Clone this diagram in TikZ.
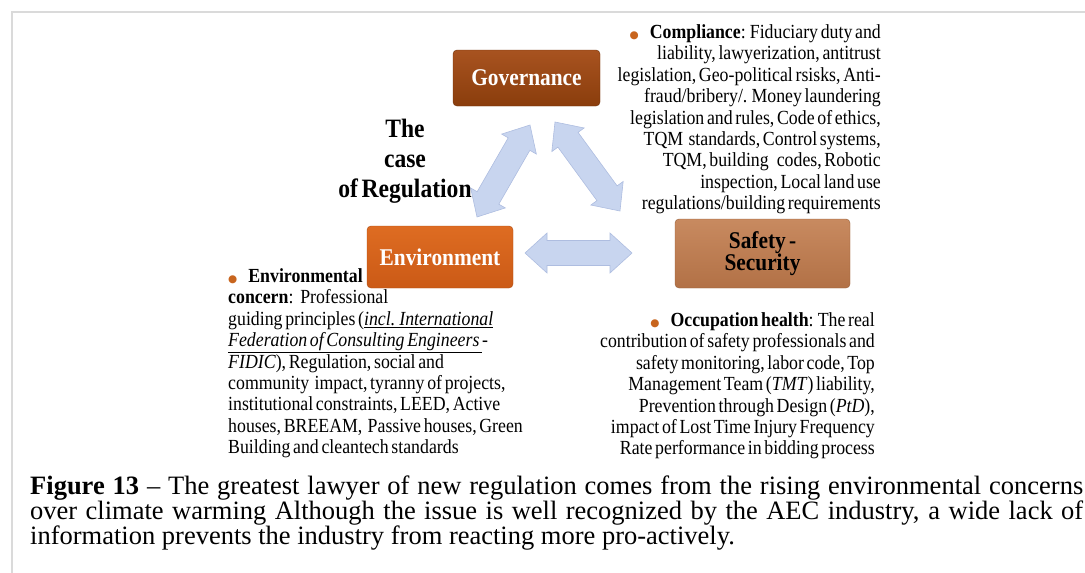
\documentclass[tikz,border=0pt]{standalone}
\usepackage{fontspec}
\setmainfont{Liberation Serif}
\newfontfamily\figfont[FakeStretch=0.89, WordSpace=0.6]{Liberation Serif}
\newfontfamily\symfont{DejaVu Sans}
\usetikzlibrary{calc}
\definecolor{framec}{HTML}{DADADA}
\definecolor{govtop}{HTML}{A85320}
\definecolor{govbot}{HTML}{8A3D0C}
\definecolor{envtop}{HTML}{DE6C22}
\definecolor{envbot}{HTML}{CB5A16}
\definecolor{saftop}{HTML}{C88A60}
\definecolor{safbot}{HTML}{B27146}
\definecolor{arrfill}{HTML}{C8D5EF}
\definecolor{arrdraw}{HTML}{AEBDE0}
\definecolor{bulc}{HTML}{C8651E}
\newcommand\bul{{\symfont\fontsize{10.5}{10}\selectfont\textcolor{bulc}{●}}\hspace{11pt}}
\newcommand\myul[1]{\underline{#1}}
\newcommand\dblarrow[2]{%
  \filldraw[arrowsty] (#1) -- ($(#1)!22pt!(#2)!20pt!90:(#2)$) -- ($(#1)!22pt!(#2)!12.5pt!90:(#2)$)
   -- ($(#2)!22pt!(#1)!12.5pt!-90:(#1)$) -- ($(#2)!22pt!(#1)!20pt!-90:(#1)$) -- (#2)
   -- ($(#2)!22pt!(#1)!20pt!90:(#1)$) -- ($(#2)!22pt!(#1)!12.5pt!90:(#1)$)
   -- ($(#1)!22pt!(#2)!12.5pt!-90:(#2)$) -- ($(#1)!22pt!(#2)!20pt!-90:(#2)$) -- cycle;}
\tikzset{
  arrowsty/.style={fill=arrfill, draw=arrdraw, line width=0.6pt, line join=miter},
  boxsty/.style={rounded corners=4pt, inner sep=0pt, align=center,
     font=\figfont\bfseries\fontsize{24}{24}\selectfont},
  bodytext/.style={inner sep=0pt, font=\figfont\fontsize{20}{21.4}\selectfont},
  captext/.style={inner sep=0pt, anchor=base west, font=\fontsize{26.5}{26}\selectfont},
}
\begin{document}
\begin{tikzpicture}[x=1pt, y=-1pt]
\useasboundingbox (0,0) rectangle (1085,573);
\draw[framec, line width=1.5pt] (12,573) -- (12,12) -- (1090,12);

% boxes
\node[boxsty, top color=govtop, bottom color=govbot, draw=govbot!80!black, text=white,
  minimum width=147pt, minimum height=56pt] (gov) at (526.5,78) {Governance};
\node[boxsty, top color=envtop, bottom color=envbot, draw=envbot!85!black, text=white,
  minimum width=146pt, minimum height=62pt] (env) at (440,257) {Environment};
\node[boxsty, top color=saftop, bottom color=safbot, draw=safbot!85!black, text=black,
  minimum width=175pt, minimum height=69pt, font=\figfont\bfseries\fontsize{24}{22.5}\selectfont] (saf) at (762.5,253.5) {Safety -\\Security};

% block arrows
\coordinate (la1) at (477,217);
\coordinate (la2) at (530,125);
\coordinate (ra1) at (555,122);
\coordinate (ra2) at (620,211);
\coordinate (ha1) at (525,253);
\coordinate (ha2) at (632,253);
\dblarrow{la1}{la2}
\dblarrow{ra1}{ra2}
\dblarrow{ha1}{ha2}

% title
\node[inner sep=0pt, align=center, font=\figfont\bfseries\fontsize{26.5}{30}\selectfont] (title) at (405,161)
  {The\\case\\of Regulation};

% compliance
\node[bodytext, align=right, anchor=north east] (comp) at (881,24.5) {%
\bul\textbf{Compliance}: Fiduciary duty and\\
liability, lawyerization, antitrust\\
legislation, Geo-political rsisks, Anti-\\
fraud/bribery/. Money laundering\\
legislation and rules, Code of ethics,\\
TQM \ standards, Control systems,\\
TQM, building \ \ codes, Robotic\\
inspection, Local land use\\
regulations/building requirements};

% environmental
\node[bodytext, align=left, anchor=north west] (envtext) at (228,268.5) {%
\bul\textbf{Environmental}\\
\textbf{concern}: \ Professional\\
guiding principles (\myul{\textit{incl. International}}\\
\myul{\textit{Federation of Consulting Engineers }}-\\
\textit{FIDIC}), Regulation, social and\\
community \ impact, tyranny of projects,\\
institutional constraints, LEED, Active\\
houses, BREEAM, \ Passive houses, Green\\
Building and cleantech standards};

% occupation
\node[bodytext, align=right, anchor=north east] (occ) at (875,312.5) {%
\bul\textbf{Occupation health}: The real\\
contribution of safety professionals and\\
safety monitoring, labor code, Top\\
Management Team (\textit{TMT}) liability,\\
Prevention through Design (\textit{PtD}),\\
impact of Lost Time Injury Frequency\\
Rate performance in bidding process};

% caption
\node[captext] (cap1) at (30,494) {\makebox[1053pt][s]{\textbf{Figure 13} – The greatest lawyer of new regulation comes from the rising environmental concerns}};
\node[captext] (cap2) at (30,519) {\makebox[1053pt][s]{over climate warming Although the issue is well recognized by the AEC industry, a wide lack of}};
\node[captext] (cap3) at (30,544) {information prevents the industry from reacting more pro-actively.};
\end{tikzpicture}
\end{document}
